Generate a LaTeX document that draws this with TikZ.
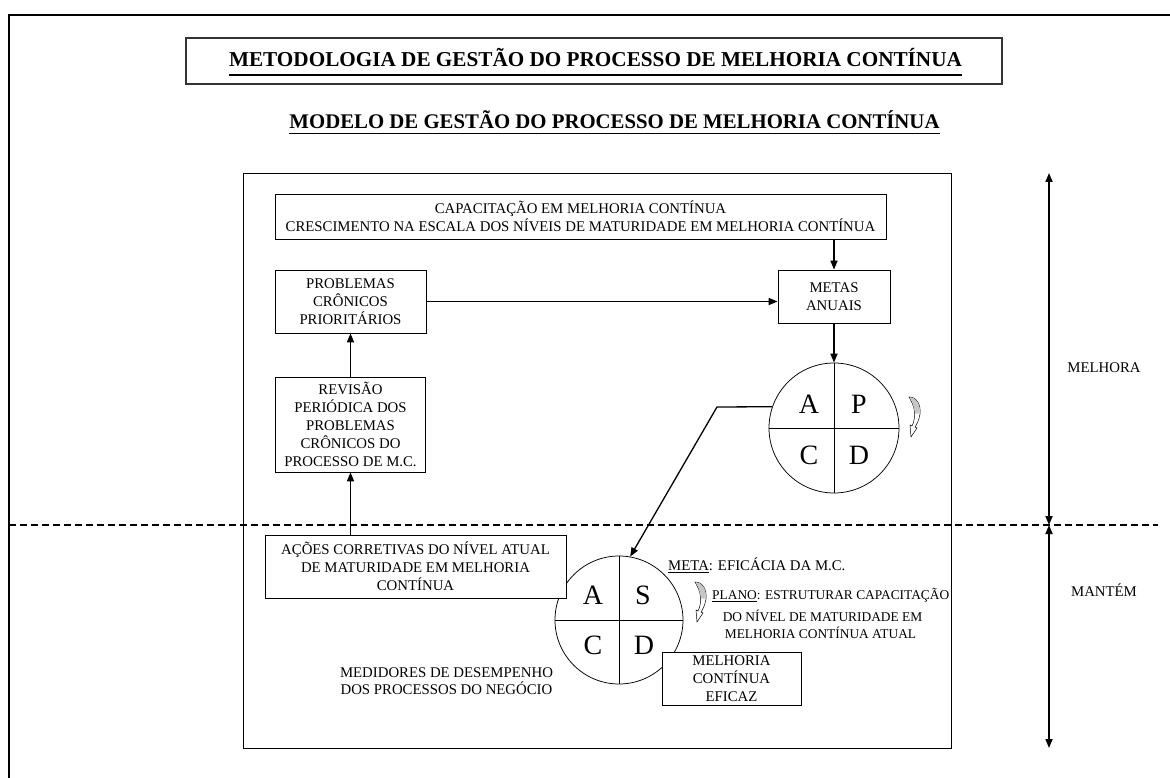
\documentclass[tikz,border=0pt]{standalone}
\usepackage{fontspec}
\setmainfont{Liberation Serif}
\usetikzlibrary{arrows.meta,shapes.geometric}
\newcommand\bodyf{\fontsize{14.8}{18}\selectfont}
\newcommand\planf{\fontsize{13.4}{16}\selectfont}
\begin{document}
\begin{tikzpicture}[x=1pt,y=-1pt,
  box/.style={draw, line width=0.75pt, fill=white, inner sep=0pt, align=center, font=\bodyf},
  lbl/.style={inner sep=0pt, font=\bodyf, text height=9.8pt, text depth=0pt},
  letter/.style={inner sep=0pt, font=\fontsize{28}{28}\selectfont, text height=18.5pt, text depth=0pt},
  arr/.style={line width=1.6pt, -{Triangle[length=9pt,width=7pt]}},
  arrthin/.style={line width=1.3pt, -{Triangle[length=9pt,width=7pt]}},
  darr/.style={line width=1.6pt, {Triangle[length=9pt,width=7pt]}-{Triangle[length=9pt,width=7pt]}},
  ring/.style={draw, circle, line width=0.75pt, inner sep=0pt},
  dashline/.style={line width=2pt, dash pattern=on 7pt off 4pt},
  curlarrow/.pic={
    \filldraw[fill=white, draw=black, line width=0.5pt]
      (-5,-20) .. controls (3,-20) and (7,-12) .. (6,-3)
      .. controls (5,3) and (3,7) .. (1,10)
      -- (3,11) -- (-3,20) -- (-4,8) -- (-2,9)
      .. controls (0,5) and (1,0) .. (0.5,-5)
      .. controls (0,-12) and (-3,-16) .. (-5,-20) -- cycle;
    \fill[gray!45]
      (-4.5,-19.5) .. controls (3,-19.5) and (6.5,-12) .. (5.6,-3.5)
      -- (1,-3.5) .. controls (0.5,-11) and (-2,-15.5) .. (-4.5,-19.5) -- cycle;
  }
]
\useasboundingbox (0,0) rectangle (1170,778);
% outer frame
\draw[line width=2.5pt] (9,778) -- (9,15) -- (1170,15);
% title
\node[draw=black!80, line width=2pt, minimum width=816pt, minimum height=46pt] (tbox) at (594,61) {};
\node[inner sep=0pt, font=\fontsize{21.2}{24}\selectfont\bfseries, text height=14pt, text depth=0pt] (ttl) at (595.5,60) {METODOLOGIA DE GESTÃO DO PROCESSO DE MELHORIA CONTÍNUA};
\draw[line width=1.8pt] ([yshift=-7.5pt]ttl.south west) -- ([yshift=-7.5pt]ttl.south east);
\node[inner sep=0pt, font=\fontsize{20.8}{24}\selectfont\bfseries, text height=13.8pt, text depth=0pt] (sub) at (614.5,122) {MODELO DE GESTÃO DO PROCESSO DE MELHORIA CONTÍNUA};
\draw[line width=1.5pt] ([yshift=-4.5pt]sub.south west) -- ([yshift=-4.5pt]sub.south east);
% inner frame
\node[draw, line width=0.75pt, minimum width=707.5pt, minimum height=575pt, inner sep=0pt] (frame) at (597.25,460.5) {};
% boxes
\node[box, minimum width=611pt, minimum height=45pt] (cap) at (580.5,216.5) {CAPACITAÇÃO EM MELHORIA CONTÍNUA\\CRESCIMENTO NA ESCALA DOS NÍVEIS DE MATURIDADE EM MELHORIA CONTÍNUA};
\node[box, minimum width=112pt, minimum height=53pt] (metas) at (834,296.5) {METAS\\ANUAIS};
\node[box, minimum width=151pt, minimum height=63pt] (prob) at (350.5,301.5) {PROBLEMAS\\CRÔNICOS\\PRIORITÁRIOS};
\node[box, minimum width=150pt, minimum height=95pt] (rev) at (350.5,424.5) {REVISÃO\\PERIÓDICA DOS\\PROBLEMAS\\CRÔNICOS DO\\PROCESSO DE M.C.};
% circles
\node[ring, minimum size=130pt] (pdca) at (834,428) {};
\draw[line width=0.75pt] (pdca.north) -- (pdca.south) (pdca.west) -- (pdca.east);
\node[ring, minimum size=128pt] (sdca) at (619,620) {};
\draw[line width=0.75pt] (sdca.north) -- (sdca.south) (sdca.west) -- (sdca.east);
\node[box, minimum width=301pt, minimum height=63pt] (acoes) at (415.5,566.5) {AÇÕES CORRETIVAS DO NÍVEL ATUAL\\DE MATURIDADE EM MELHORIA\\CONTÍNUA};
\node[box, minimum width=139pt, minimum height=53pt] (melh) at (731.5,678.5) {MELHORIA\\CONTÍNUA\\EFICAZ};
% letters
\node[letter] (ua) at (809,404) {A};
\node[letter] (up) at (859,404) {P};
\node[letter] (uc) at (809,455) {C};
\node[letter] (ud) at (859,455) {D};
\node[letter] (la) at (593,595) {A};
\node[letter] (ls) at (643,595) {S};
\node[letter] (lc) at (593,645) {C};
\node[letter] (ld) at (644,645) {D};
% curls
\pic at (914,417) {curlarrow};
\pic at (700,602) {curlarrow};
% labels
\node[lbl, anchor=west] (meta) at (668,566) {\underline{META}: EFICÁCIA DA M.C.};
\node[lbl, anchor=west, font=\planf, text height=8.9pt] (plano) at (712,595) {\underline{PLANO}: ESTRUTURAR CAPACITAÇÃO};
\node[lbl, font=\planf, text height=8.9pt] (niv) at (822.5,617) {DO NÍVEL DE MATURIDADE EM};
\node[lbl, font=\planf, text height=8.9pt] (atual) at (820.5,634) {MELHORIA CONTÍNUA ATUAL};
\node[lbl] (med1) at (446.5,673) {MEDIDORES DE DESEMPENHO};
\node[lbl] (med2) at (446.5,690) {DOS PROCESSOS DO NEGÓCIO};
\node[lbl] (melhora) at (1104,368) {MELHORA};
\node[lbl] (mantem) at (1104,592) {MANTÉM};
% connectors
\draw[arr] (metas.north |- cap.south) -- (metas.north);
\draw[arr] (prob.east) -- (prob.east -| metas.west);
\draw[arr] (metas.south) -- (pdca.north);
\draw[arr] (rev.north) -- (prob.south);
\draw[arr] (rev.south |- acoes.north) -- (rev.south);
\coordinate (bend) at (717,407);
\draw[arrthin] (pdca.161) -- (bend) -- (sdca.80);
% dashed divider
\coordinate (dl) at (9,525);
\coordinate (dr) at (1158,525);
\draw[dashline] (dl) -- (dr);
% right arrows
\coordinate (mtop) at (1049,173);
\coordinate (mmid) at (1049,525);
\coordinate (mbot) at (1049,748);
\draw[darr] (mtop) -- (mmid);
\draw[darr] (mmid) -- (mbot);
\end{tikzpicture}
\end{document}
